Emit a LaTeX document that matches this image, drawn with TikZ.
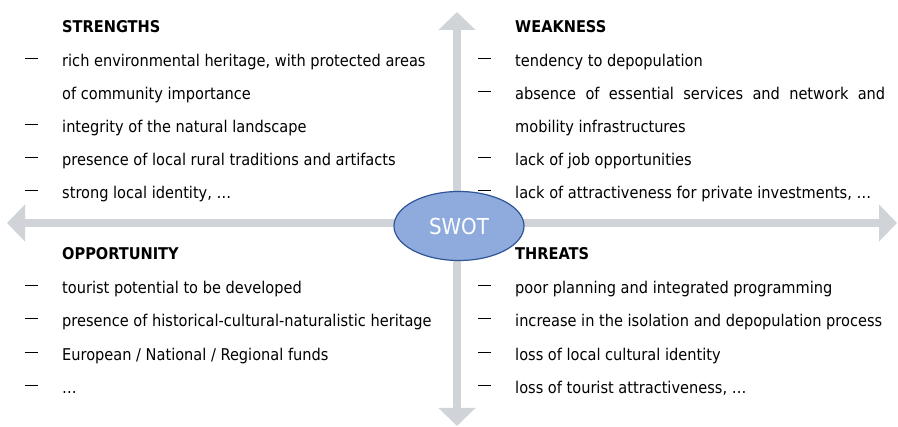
\documentclass[tikz,border=0pt]{standalone}
\usepackage{fontspec}
\setmainfont{DejaVu Sans Condensed}
\usetikzlibrary{arrows.meta,shapes.geometric}
\definecolor{axis}{HTML}{D0D3D8}
\definecolor{swotfill}{HTML}{8FAADC}
\definecolor{swotline}{HTML}{2F5597}
\newcommand{\dashbar}{\rule[8pt]{12.5pt}{1.2pt}}

\begin{document}
\begin{tikzpicture}[x=1pt, y=-1pt,
    heading/.style={anchor=base west, inner sep=0pt, font=\fontsize{16.2}{33}\selectfont\bfseries},
    entry/.style={anchor=base west, inner sep=0pt, font=\fontsize{16.2}{33}\selectfont, align=left},
    bar/.style={anchor=base west, inner sep=0pt},
    axisarrow/.style={draw=axis, line width=8pt,
      {Triangle[length=18pt,width=36pt]}-{Triangle[length=18pt,width=36pt]}}]
  \useasboundingbox (0,0) rectangle (898,427);

  % the two axes
  \coordinate (west) at (7,223);
  \coordinate (east) at (897,223);
  \coordinate (north) at (457,12);
  \coordinate (south) at (457,426);
  \draw[axisarrow] (west) -- (east);
  \draw[axisarrow] (north) -- (south);

  \node[ellipse, draw=swotline, line width=1.2pt, fill=swotfill, minimum width=130pt,
        minimum height=69pt, text=white, font=\fontsize{22}{24}\selectfont]
    (swot) at (459,226) {SWOT};

  % strengths (a two-line node sits on its last line)
  \node[heading] (str) at (62,33) {STRENGTHS};
  \node[entry] (str1) at (62,100) {rich environmental heritage, with protected areas\\of community importance};
  \node[entry] (str2) at (62,133) {integrity of the natural landscape};
  \node[entry] (str3) at (62,166) {presence of local rural traditions and artifacts};
  \node[entry] (str4) at (62,199) {strong local identity, …};
  \foreach \y [count=\i] in {67,133,166,199}
    \node[bar] (strd\i) at (25,\y) {\dashbar};

  % weakness
  \node[heading] (weak) at (515,33) {WEAKNESS};
  \node[entry] (weak1) at (515,67) {tendency to depopulation};
  \node[entry, text width=370pt, align=justify] (weak2) at (515,100)
    {absence of essential services and network and\linebreak mobility infrastructures};
  \node[entry] (weak3) at (515,166) {lack of job opportunities};
  \node[entry] (weak4) at (515,199) {lack of attractiveness for private investments, …};
  \foreach \y [count=\i] in {67,100,166,199}
    \node[bar] (weakd\i) at (478,\y) {\dashbar};

  % opportunity
  \node[heading] (opp) at (62,260) {OPPORTUNITY};
  \node[entry] (opp1) at (62,294) {tourist potential to be developed};
  \node[entry] (opp2) at (62,327) {presence of historical-cultural-naturalistic heritage};
  \node[entry] (opp3) at (62,361) {European / National / Regional funds};
  \node[entry] (opp4) at (62,394) {…};
  \foreach \y [count=\i] in {294,327,361,394}
    \node[bar] (oppd\i) at (25,\y) {\dashbar};

  % threats
  \node[heading] (thr) at (515,260) {THREATS};
  \node[entry] (thr1) at (515,294) {poor planning and integrated programming};
  \node[entry] (thr2) at (515,327) {increase in the isolation and depopulation process};
  \node[entry] (thr3) at (515,361) {loss of local cultural identity};
  \node[entry] (thr4) at (515,394) {loss of tourist attractiveness, …};
  \foreach \y [count=\i] in {294,327,361,394}
    \node[bar] (thrd\i) at (478,\y) {\dashbar};
\end{tikzpicture}
\end{document}
